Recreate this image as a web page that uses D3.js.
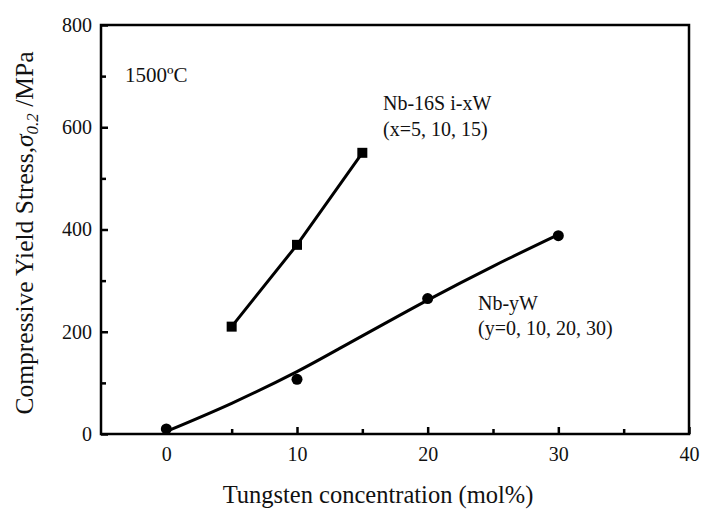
<!DOCTYPE html>
<html><head><meta charset="utf-8">
<script src="https://cdn.jsdelivr.net/npm/d3@7"></script>
<style>body{margin:0;background:#fff}svg{display:block}text{font-family:"Liberation Serif","Times New Roman",serif;fill:#111}</style>
</head><body><svg id="c" width="704" height="511"></svg>
<script>
const xTicks = [0, 10, 20, 30, 40];
const yTicks = [0, 200, 400, 600, 800];
const siX = [5, 10, 15];
const siY = [210, 370, 550];
const nbX = [0, 10, 20, 30];
const nbY = [10, 107, 265, 388];
const fitX = [0, 5, 10, 15, 20, 25, 30];
const fitY = [5, 60, 122, 192, 262, 328, 390];

const svg = d3.select("#c");
const L = 101, R = 689, T = 25, B = 434;
const x = d3.scaleLinear().domain([-5, 40]).range([L, R]);
const y = d3.scaleLinear().domain([0, 800]).range([B, T]);
const SERIF = '"Liberation Serif","Times New Roman",serif';

const g = svg.append("g");
g.append("rect").attr("x", L).attr("y", T).attr("width", R - L).attr("height", B - T)
  .attr("fill", "none").attr("stroke", "#000").attr("stroke-width", 2.5);

const xAx = g.append("g").attr("transform", `translate(0,${B})`)
  .call(d3.axisBottom(x).tickValues(xTicks).tickSize(-7).tickPadding(13).tickFormat(d3.format("d")));
xAx.attr("font-family", null);
xAx.select(".domain").remove();
xAx.selectAll("line").attr("stroke-width", 2.5);
xAx.selectAll("text").attr("font-size", 20).style("font-family", SERIF).attr("fill", "#222");
const xMin = g.append("g").attr("transform", `translate(0,${B})`)
  .call(d3.axisBottom(x).tickValues([5, 15, 25, 35]).tickSize(-5).tickFormat(""));
xMin.select(".domain").remove();
xMin.selectAll("line").attr("stroke-width", 2.5);

const yAx = g.append("g").attr("transform", `translate(${L},0)`)
  .call(d3.axisLeft(y).tickValues(yTicks).tickSize(-7).tickPadding(9).tickFormat(d3.format("d")));
yAx.attr("font-family", null);
yAx.select(".domain").remove();
yAx.selectAll("line").attr("stroke-width", 2.5);
yAx.selectAll("text").attr("font-size", 20).style("font-family", SERIF).attr("fill", "#222");
const yMin = g.append("g").attr("transform", `translate(${L},0)`)
  .call(d3.axisLeft(y).tickValues([100, 300, 500, 700]).tickSize(-5).tickFormat(""));
yMin.select(".domain").remove();
yMin.selectAll("line").attr("stroke-width", 2.5);

const si = siX.map((d, i) => [d, siY[i]]);
g.append("path").datum(si).attr("fill", "none").attr("stroke", "#000").attr("stroke-width", 3)
  .attr("d", d3.line().x(d => x(d[0])).y(d => y(d[1])));
g.selectAll(".sq").data(si).enter().append("rect")
  .attr("x", d => x(d[0]) - 5).attr("y", d => y(d[1]) - 5).attr("width", 10).attr("height", 10).attr("fill", "#000");

const fit = fitX.map((d, i) => [d, fitY[i]]);
g.append("path").datum(fit).attr("fill", "none").attr("stroke", "#000").attr("stroke-width", 3)
  .attr("d", d3.line().curve(d3.curveCatmullRom).x(d => x(d[0])).y(d => y(d[1])));
const nb = nbX.map((d, i) => [d, nbY[i]]);
g.selectAll(".ci").data(nb).enter().append("circle")
  .attr("cx", d => x(d[0])).attr("cy", d => y(d[1])).attr("r", 5.5).attr("fill", "#000");

g.append("text").attr("x", 125).attr("y", 82).attr("font-size", 21).text("1500ºC");
g.append("text").attr("x", 383).attr("y", 110).attr("font-size", 20).text("Nb-16S i-xW");
g.append("text").attr("x", 383).attr("y", 136).attr("font-size", 20).text("(x=5, 10, 15)");
g.append("text").attr("x", 478).attr("y", 310).attr("font-size", 20).text("Nb-yW");
g.append("text").attr("x", 478).attr("y", 335).attr("font-size", 20).text("(y=0, 10, 20, 30)");

g.append("text").attr("x", 378).attr("y", 503).attr("text-anchor", "middle").attr("font-size", 24.5)
  .text("Tungsten concentration (mol%)");
const yt = g.append("text").attr("transform", "translate(33,233) rotate(-90)").attr("text-anchor", "middle").attr("font-size", 25.5);
yt.append("tspan").text("Compressive Yield Stress,");
yt.append("tspan").attr("font-style", "italic").text("σ");
yt.append("tspan").attr("font-style", "italic").attr("font-size", 17).attr("dy", 5).text("0.2");
yt.append("tspan").attr("dy", -5).text(" /MPa");
</script></body></html>
